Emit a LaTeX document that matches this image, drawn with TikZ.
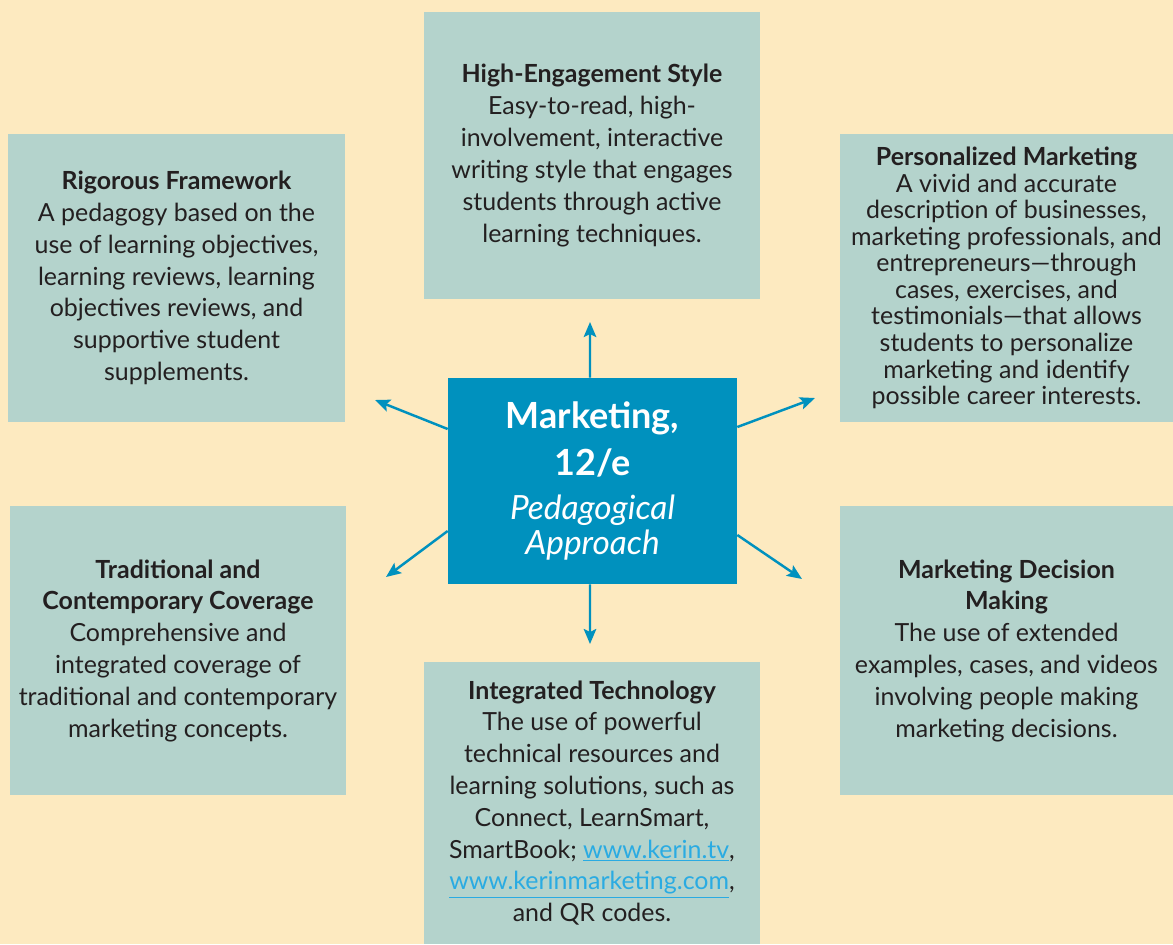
\documentclass[tikz,border=0pt]{standalone}
\usepackage{fontspec}
\setmainfont{Lato}
\usetikzlibrary{arrows.meta}

\definecolor{cream}{HTML}{FDEAC0}
\definecolor{sage}{HTML}{B4D3CC}
\definecolor{hubblue}{HTML}{0091BE}
\definecolor{ink}{HTML}{231F20}
\definecolor{linkblue}{HTML}{2AABE2}

\tikzset{
  feature/.style={fill=sage, text=ink, align=center, inner sep=0pt,
    font=\fontsize{14.2}{18.1}\selectfont},
  spoke/.style={draw=hubblue, line width=1.4pt,
    -{Stealth[length=0.3cm,width=0.25cm,inset=0.06cm]}}
}

\newcommand{\weblink}[1]{\textcolor{linkblue}{\underline{#1}}}
\newcommand{\hubsub}{\fontsize{19}{19.8}\selectfont\mdseries\itshape}

\begin{document}
\begin{tikzpicture}[x=0.02cm,y=-0.02cm]
        %% Background and page size
        \fill[cream] (0,0) rectangle (1173,944);
        \useasboundingbox (0,0) rectangle (1173,944);

        %% The hub in the middle
        \node[fill=hubblue, text=white, align=center, inner sep=0pt,
              minimum width=5.78cm, minimum height=4.12cm,
              font=\fontsize{20.5}{26.6}\selectfont\bfseries] (hub) at (592.5,481)
          {Marketing,\\ 12/e\\[-1.7pt] \hubsub Pedagogical\\[-6.8pt] \hubsub Approach};

        %% The six feature boxes
        \node[feature, minimum width=6.72cm, minimum height=5.74cm] (style) at (592,155.5)
          {\textbf{High-Engagement Style}\\ Easy-to-read, high-\\ involvement, interactive\\
           writing style that engages\\ students through active\\ learning techniques.};
        \node[feature, minimum width=6.74cm, minimum height=5.76cm] (framework) at (176.5,278)
          {\textbf{Rigorous Framework}\\ A pedagogy based on the\\ use of learning objectives,\\
           learning reviews, learning\\ objectives reviews, and\\ supportive student\\ supplements.};
        \node[feature, minimum width=6.66cm, minimum height=5.76cm,
              font=\fontsize{14.2}{15.1}\selectfont] (personal) at (1006.5,278)
          {\textbf{Personalized Marketing}\\ A vivid and accurate\\ description of businesses,\\
           marketing professionals, and\\ entrepreneurs---through\\ cases, exercises, and\\
           testimonials---that allows\\ students to personalize\\ marketing and identify\\
           possible career interests.};
        \node[feature, minimum width=6.74cm, minimum height=5.78cm] (coverage) at (178,650.5)
          {\textbf{Traditional and}\\ \textbf{Contemporary Coverage}\\ Comprehensive and\\
           integrated coverage of\\ traditional and contemporary\\ marketing concepts.};
        \node[feature, minimum width=6.66cm, minimum height=5.78cm] (decision) at (1006.5,650.5)
          {\textbf{Marketing Decision}\\ \textbf{Making}\\ The use of extended\\
           examples, cases, and videos\\ involving people making\\ marketing decisions.};
        \node[feature, minimum width=6.72cm, minimum height=5.64cm] (technology) at (592,803)
          {\textbf{Integrated Technology}\\ The use of powerful\\ technical resources and\\
           learning solutions, such as\\ Connect, LearnSmart,\\
           SmartBook; \weblink{www.kerin.tv},\\ \weblink{www.kerinmarketing.com},\\ and QR codes.};

        %% Arrow tips stop short of the boxes
        \coordinate (tipN) at (590,322);
        \coordinate (tipS) at (590,644);
        \coordinate (tipNE) at (815,398);
        \coordinate (tipSE) at (802,579);
        \coordinate (tipNW) at (375,400);
        \coordinate (tipSW) at (386,577);

        \draw[spoke] ([xshift=-0.05cm]hub.north) -- (tipN);
        \draw[spoke] ([xshift=-0.05cm]hub.south) -- (tipS);
        \draw[spoke] ([yshift=1.08cm]hub.east) -- (tipNE);
        \draw[spoke] ([yshift=-1.08cm]hub.east) -- (tipSE);
        \draw[spoke] ([yshift=1.04cm]hub.west) -- (tipNW);
        \draw[spoke] ([yshift=-1.00cm]hub.west) -- (tipSW);
    \end{tikzpicture}
\end{document}
